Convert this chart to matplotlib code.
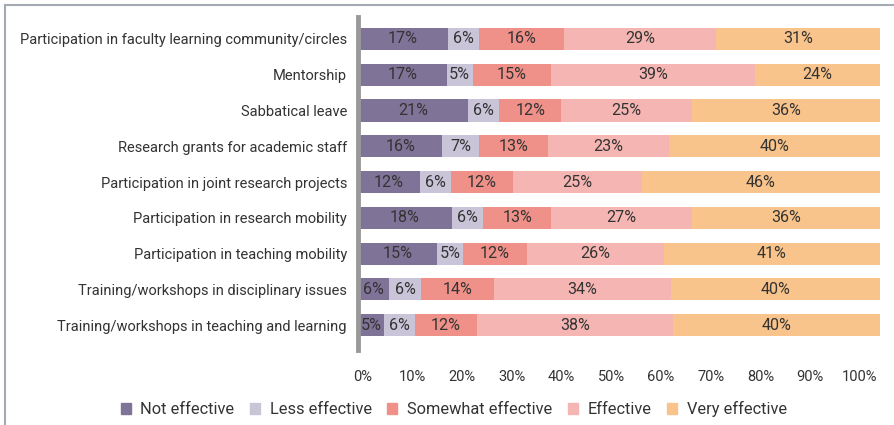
import matplotlib
matplotlib.use("Agg")
import matplotlib.pyplot as plt
from matplotlib.lines import Line2D
from matplotlib.patches import Rectangle
import numpy as np

categories = [
    "Participation in faculty learning community/circles",
    "Mentorship",
    "Sabbatical leave",
    "Research grants for academic staff",
    "Participation in joint research projects",
    "Participation in research mobility",
    "Participation in teaching mobility",
    "Training/workshops in disciplinary issues",
    "Training/workshops in teaching and learning",
]
series_names = ["Not effective", "Less effective", "Somewhat effective", "Effective", "Very effective"]
not_effective = [17, 17, 21, 16, 12, 18, 15, 6, 5]
less_effective = [6, 5, 6, 7, 6, 6, 5, 6, 6]
somewhat_effective = [16, 15, 12, 13, 12, 13, 12, 14, 12]
effective = [29, 39, 25, 23, 25, 27, 26, 34, 38]
very_effective = [31, 24, 36, 40, 46, 36, 41, 40, 40]
xtick_labels = ["0%", "10%", "20%", "30%", "40%", "50%", "60%", "70%", "80%", "90%", "100%"]

colors = ["#807398", "#c9c4d8", "#ef9189", "#f5b6b3", "#f9c48b"]

plt.rcParams["font.family"] = ["Roboto", "DejaVu Sans"]
text_color = "#333333"

fig = plt.figure(figsize=(8.95, 4.25), dpi=100)
ax = fig.add_axes([0.4, 0.176, 0.983 - 0.4, 0.96 - 0.176])

# fit label font size so the longest category label spans ~327 px
renderer = fig.canvas.get_renderer()
probe = fig.text(0, 0, categories[0], fontsize=10)
w = probe.get_window_extent(renderer).width
probe.remove()
label_fs = 10 * 327.0 / w

data = np.array([not_effective, less_effective, somewhat_effective, effective, very_effective], dtype=float)
totals = data.sum(axis=0)
scaled = data / totals * 100

n = len(categories)
ypos = np.arange(n)[::-1]
left = np.zeros(n)
for i, name in enumerate(series_names):
    ax.barh(ypos, scaled[i], left=left, height=0.62, color=colors[i], label=name)
    for j in range(n):
        ax.text(left[j] + scaled[i][j] / 2, ypos[j], f"{int(data[i][j])}%",
                ha="center", va="center", fontsize=label_fs * 1.1, color=text_color)
    left += scaled[i]

ax.set_xlim(0, 100)
ax.set_ylim(-0.7, n - 1 + 0.615)
ax.set_yticks(ypos)
ax.set_yticklabels(categories, fontsize=label_fs, color=text_color)
ax.set_xticks(np.linspace(0.8, 96.2, 11))
ax.set_xticklabels(xtick_labels, fontsize=label_fs, color=text_color)
ax.tick_params(axis="both", length=0)
ax.tick_params(axis="x", pad=14)
ax.tick_params(axis="y", pad=8)
for s in ["top", "right", "bottom"]:
    ax.spines[s].set_visible(False)
ax.spines["left"].set_color("#999999")
ax.spines["left"].set_linewidth(3.5)

handles = [Rectangle((0, 0), 1, 1, color=c) for c in colors]
fig.legend(handles, series_names, loc="center", bbox_to_anchor=(0.507, 0.037),
           ncol=5, frameon=False, fontsize=label_fs * 1.12, handlelength=0.6, handleheight=0.6,
           columnspacing=0.95, handletextpad=0.6, labelcolor=text_color)

# outer partial frame
fig.add_artist(Line2D([0.006, 1.0], [0.988, 0.988], transform=fig.transFigure, color="#a3aab2", lw=1.5))
fig.add_artist(Line2D([0.006, 0.006], [0.0, 0.988], transform=fig.transFigure, color="#a3aab2", lw=1.5))

fig.savefig("out.png", dpi=100)
